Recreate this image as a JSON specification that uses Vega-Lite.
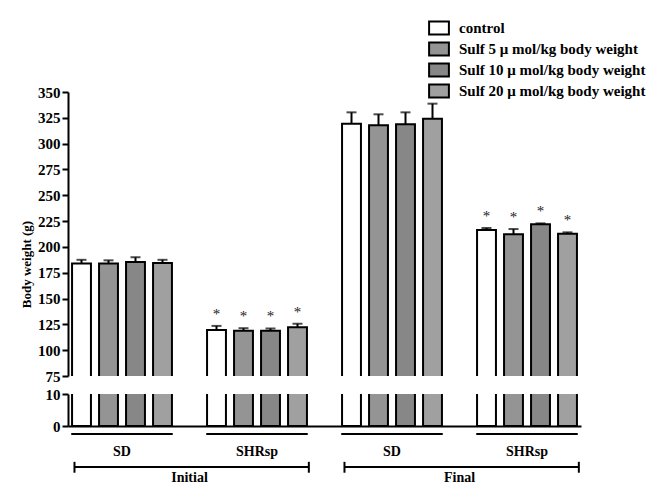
{
  "$schema": "https://vega.github.io/schema/vega-lite/v6.json",
  "background": "white",
  "padding": {"left": 20, "top": 18, "right": 0, "bottom": 0},
  "bounds": "flush",
  "spacing": 18,
  "datasets": {
    "bars": [
      {"group": "Initial SD", "series": "control", "value": 184.0, "upper": 187.5, "sig": ""},
      {"group": "Initial SD", "series": "Sulf 5 μ mol/kg body weight", "value": 184.0, "upper": 187.0, "sig": ""},
      {"group": "Initial SD", "series": "Sulf 10 μ mol/kg body weight", "value": 185.5, "upper": 190.0, "sig": ""},
      {"group": "Initial SD", "series": "Sulf 20 μ mol/kg body weight", "value": 184.5, "upper": 187.5, "sig": ""},
      {"group": "Initial SHRsp", "series": "control", "value": 119.5, "upper": 123.5, "sig": "*"},
      {"group": "Initial SHRsp", "series": "Sulf 5 μ mol/kg body weight", "value": 118.8, "upper": 121.3, "sig": "*"},
      {"group": "Initial SHRsp", "series": "Sulf 10 μ mol/kg body weight", "value": 118.8, "upper": 121.0, "sig": "*"},
      {"group": "Initial SHRsp", "series": "Sulf 20 μ mol/kg body weight", "value": 122.2, "upper": 125.6, "sig": "*"},
      {"group": "Final SD", "series": "control", "value": 319.3, "upper": 330.3, "sig": ""},
      {"group": "Final SD", "series": "Sulf 5 μ mol/kg body weight", "value": 317.7, "upper": 328.4, "sig": ""},
      {"group": "Final SD", "series": "Sulf 10 μ mol/kg body weight", "value": 318.7, "upper": 330.3, "sig": ""},
      {"group": "Final SD", "series": "Sulf 20 μ mol/kg body weight", "value": 324.2, "upper": 338.7, "sig": ""},
      {"group": "Final SHRsp", "series": "control", "value": 216.4, "upper": 218.3, "sig": "*"},
      {"group": "Final SHRsp", "series": "Sulf 5 μ mol/kg body weight", "value": 212.2, "upper": 217.3, "sig": "*"},
      {"group": "Final SHRsp", "series": "Sulf 10 μ mol/kg body weight", "value": 221.9, "upper": 222.8, "sig": "*"},
      {"group": "Final SHRsp", "series": "Sulf 20 μ mol/kg body weight", "value": 212.8, "upper": 214.1, "sig": "*"}
    ],
    "groups": [
      {"group": "Initial SD", "label": "SD"},
      {"group": "Initial SHRsp", "label": "SHRsp"},
      {"group": "Final SD", "label": "SD"},
      {"group": "Final SHRsp", "label": "SHRsp"}
    ],
    "phases": [
      {"phase": "Initial", "from": "Initial SD", "to": "Initial SHRsp"},
      {"phase": "Final", "from": "Final SD", "to": "Final SHRsp"}
    ]
  },
  "config": {
    "view": {"stroke": null},
    "font": "Liberation Serif",
    "axis": {
      "domainColor": "black", "domainWidth": 2, "tickColor": "black", "tickWidth": 2, "tickSize": 6,
      "labelFont": "Liberation Serif", "labelFontWeight": "bold", "labelFontSize": 15, "labelColor": "black", "labelPadding": 2,
      "labelOverlap": false, "labelBound": false,
      "titleFont": "Liberation Serif", "titleFontWeight": "bold", "titleFontSize": 13, "titleColor": "black", "grid": false
    },
    "legend": {
      "symbolType": "M-1.1,-0.72H1.1V0.72H-1.1Z", "symbolSize": 324, "symbolStrokeColor": "black", "symbolStrokeWidth": 2,
      "labelFont": "Liberation Serif", "labelFontWeight": "bold", "labelFontSize": 15, "labelColor": "black",
      "labelOffset": 10, "labelLimit": 400
    }
  },
  "vconcat": [
    {
      "width": 513,
      "height": 284,
      "data": {"name": "bars"},
      "encoding": {
        "x": {"field": "group", "type": "nominal", "scale": {"domain": ["Initial SD", "Initial SHRsp", "Final SD", "Final SHRsp"], "paddingInner": 0.2, "paddingOuter": 0}, "axis": null},
        "xOffset": {"field": "series", "type": "nominal", "scale": {"domain": ["control", "Sulf 5 μ mol/kg body weight", "Sulf 10 μ mol/kg body weight", "Sulf 20 μ mol/kg body weight"], "paddingInner": 0.3, "paddingOuter": 0.15}}
      },
      "layer": [
        {
          "mark": {"type": "bar", "clip": true, "stroke": "black", "strokeWidth": 2},
          "encoding": {
            "y": {"field": "value", "type": "quantitative", "title": "Body weight (g)", "scale": {"domain": [75, 350], "nice": false, "zero": false},
                  "axis": {"values": [75, 100, 125, 150, 175, 200, 225, 250, 275, 300, 325, 350], "tickCount": 20, "titleY": 172}},
            "fill": {"field": "series", "type": "nominal",
                     "scale": {"domain": ["control", "Sulf 5 μ mol/kg body weight", "Sulf 10 μ mol/kg body weight", "Sulf 20 μ mol/kg body weight"],
                               "range": ["#ffffff", "#949494", "#878787", "#a0a0a0"]},
                     "legend": {"title": null, "orient": "none", "legendX": 361, "legendY": -74, "rowPadding": -5}}
          }
        },
        {
          "mark": {"type": "rule", "color": "black", "strokeWidth": 2},
          "encoding": {
            "y": {"field": "value", "type": "quantitative", "title": "Body weight (g)"},
            "y2": {"field": "upper"}
          }
        },
        {
          "mark": {"type": "tick", "color": "black", "thickness": 2, "size": 10},
          "encoding": {
            "y": {"field": "upper", "type": "quantitative", "title": "Body weight (g)"}
          }
        },
        {
          "mark": {"type": "text", "fontSize": 15, "color": "#222", "baseline": "alphabetic", "dy": -7},
          "encoding": {
            "y": {"field": "upper", "type": "quantitative", "title": "Body weight (g)"},
            "text": {"field": "sig"}
          }
        }
      ]
    },
    {
      "width": 513,
      "height": 32,
      "layer": [
        {
          "data": {"name": "bars"},
          "mark": {"type": "bar", "clip": true, "stroke": "black", "strokeWidth": 2},
          "encoding": {
            "x": {"field": "group", "type": "nominal", "title": null, "scale": {"domain": ["Initial SD", "Initial SHRsp", "Final SD", "Final SHRsp"], "paddingInner": 0.2, "paddingOuter": 0},
                  "axis": {"labels": false, "ticks": false, "domain": true, "title": null}},
            "xOffset": {"field": "series", "type": "nominal", "scale": {"domain": ["control", "Sulf 5 μ mol/kg body weight", "Sulf 10 μ mol/kg body weight", "Sulf 20 μ mol/kg body weight"], "paddingInner": 0.3, "paddingOuter": 0.15}},
            "y": {"field": "value", "type": "quantitative", "title": null, "scale": {"domain": [0, 10], "nice": false}, "axis": {"values": [0, 10], "tickCount": 5, "title": null}},
            "fill": {"field": "series", "type": "nominal",
                     "scale": {"domain": ["control", "Sulf 5 μ mol/kg body weight", "Sulf 10 μ mol/kg body weight", "Sulf 20 μ mol/kg body weight"],
                               "range": ["#ffffff", "#949494", "#878787", "#a0a0a0"]},
                     "legend": {"title": null, "orient": "none", "legendX": 361, "legendY": -74, "rowPadding": -5}}
          }
        },
        {
          "data": {"name": "groups"},
          "mark": {"type": "rule", "color": "black", "strokeWidth": 2},
          "encoding": {
            "x": {"field": "group", "type": "nominal", "title": null, "bandPosition": 0.03},
            "x2": {"field": "group", "bandPosition": 0.97},
            "y": {"datum": -2.5}
          }
        },
        {
          "data": {"name": "groups"},
          "mark": {"type": "text", "fontSize": 14, "fontWeight": "bold", "color": "black", "baseline": "middle"},
          "encoding": {
            "x": {"field": "group", "type": "nominal", "title": null},
            "y": {"datum": -8},
            "text": {"field": "label"}
          }
        },
        {
          "data": {"name": "phases"},
          "mark": {"type": "rule", "color": "black", "strokeWidth": 2},
          "encoding": {
            "x": {"field": "from", "type": "nominal", "title": null, "bandPosition": 0.06},
            "x2": {"field": "to", "bandPosition": 0.98},
            "y": {"datum": -12.8}
          }
        },
        {
          "data": {"name": "phases"},
          "mark": {"type": "rule", "color": "black", "strokeWidth": 2},
          "encoding": {
            "x": {"field": "from", "type": "nominal", "title": null, "bandPosition": 0.06},
            "y": {"datum": -11.2},
            "y2": {"datum": -14.6}
          }
        },
        {
          "data": {"name": "phases"},
          "mark": {"type": "rule", "color": "black", "strokeWidth": 2},
          "encoding": {
            "x": {"field": "to", "type": "nominal", "title": null, "bandPosition": 0.98},
            "y": {"datum": -11.2},
            "y2": {"datum": -14.6}
          }
        },
        {
          "data": {"name": "phases"},
          "mark": {"type": "text", "fontSize": 14, "fontWeight": "bold", "color": "black", "baseline": "top"},
          "encoding": {
            "x": {"field": "from", "type": "nominal", "title": null, "bandPosition": 1.125},
            "y": {"datum": -14.2},
            "text": {"field": "phase"}
          }
        }
      ]
    }
  ]
}
